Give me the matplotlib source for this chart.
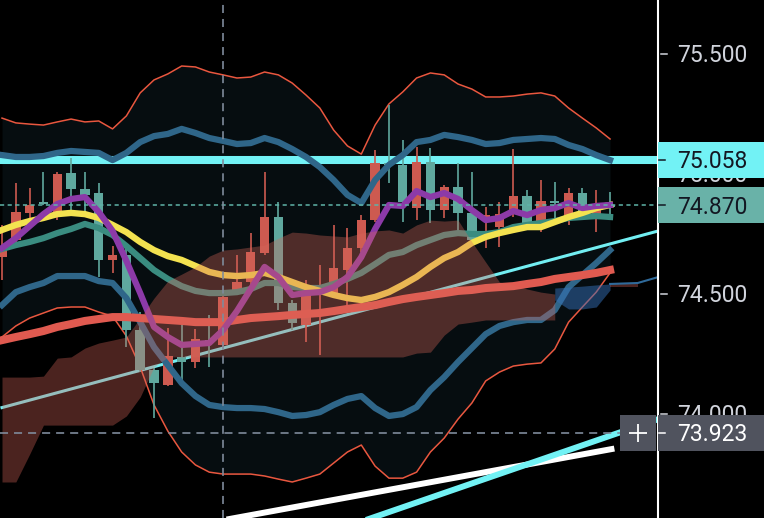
import numpy as np
import matplotlib
matplotlib.use('Agg')
import matplotlib.pyplot as plt
import matplotlib.transforms as mtransforms
from matplotlib.patches import Rectangle

plt.rcParams['font.family'] = ['Roboto', 'DejaVu Sans']
plt.rcParams['lines.scale_dashes'] = False

# --- candles (one per bar) ---
opens = [74.692, 74.842, 74.871, 74.875, 75.000, 74.938, 74.912, 74.642, 74.663, 74.350,
         74.183, 74.129, 74.242, 74.217, 74.313, 74.296, 74.487, 74.550, 74.675, 74.821,
         74.462, 74.379, 74.504, 74.517, 74.608, 74.692, 74.808, 75.046, 75.038, 74.883,
         75.050, 74.850, 74.946, 74.838, 74.725, 74.829, 74.833, 74.908, 74.796, 74.887,
         74.879, 74.921, 74.829, 74.871, 74.862]
highs = [74.787, 74.962, 74.942, 75.008, 75.008, 75.067, 75.008, 74.962, 74.700, 74.692,
         74.425, 74.192, 74.358, 74.371, 74.354, 74.412, 74.496, 74.662, 74.754, 75.008,
         74.883, 74.475, 74.558, 74.621, 74.787, 74.775, 74.829, 75.100, 75.288, 75.142,
         75.113, 75.108, 74.954, 75.046, 75.008, 74.862, 74.883, 75.104, 74.933, 74.975,
         74.967, 74.942, 74.942, 74.933, 74.925]
lows = [74.558, 74.717, 74.787, 74.871, 74.808, 74.842, 74.821, 74.571, 74.588, 74.279,
        74.175, 73.983, 74.117, 74.129, 74.192, 74.196, 74.279, 74.504, 74.538, 74.662,
        74.433, 74.350, 74.300, 74.246, 74.487, 74.446, 74.675, 74.800, 74.962, 74.800,
        74.808, 74.796, 74.817, 74.767, 74.725, 74.692, 74.696, 74.821, 74.779, 74.758,
        74.808, 74.787, 74.817, 74.758, 74.829]
closes = [74.654, 74.725, 74.838, 74.883, 74.829, 75.004, 74.938, 74.921, 74.642, 74.663,
          74.350, 74.183, 74.121, 74.237, 74.217, 74.308, 74.287, 74.517, 74.550, 74.671,
          74.821, 74.462, 74.371, 74.508, 74.504, 74.600, 74.692, 74.808, 75.046, 75.038,
          74.858, 75.050, 74.850, 74.946, 74.838, 74.812, 74.779, 74.842, 74.908, 74.796,
          74.887, 74.821, 74.921, 74.829, 74.870]

# --- bands ---
bb_outer_up = [75.233, 75.213, 75.208, 75.204, 75.217, 75.229, 75.217, 75.221, 75.188, 75.242,
               75.338, 75.392, 75.417, 75.450, 75.446, 75.425, 75.413, 75.400, 75.404, 75.425,
               75.413, 75.379, 75.329, 75.275, 75.183, 75.117, 75.083, 75.204, 75.292, 75.342,
               75.400, 75.421, 75.413, 75.375, 75.354, 75.321, 75.321, 75.325, 75.333, 75.338,
               75.325, 75.275, 75.233, 75.192, 75.146]
bb_outer_dn = [74.321, 74.367, 74.400, 74.421, 74.442, 74.446, 74.446, 74.425, 74.408, 74.325,
               74.196, 74.038, 73.929, 73.842, 73.788, 73.758, 73.750, 73.750, 73.750, 73.742,
               73.729, 73.717, 73.733, 73.750, 73.796, 73.842, 73.871, 73.783, 73.733, 73.733,
               73.758, 73.842, 73.900, 73.979, 74.046, 74.138, 74.175, 74.200, 74.208, 74.213,
               74.271, 74.383, 74.446, 74.508, 74.588]
bb_inner_up = [75.079, 75.071, 75.071, 75.075, 75.088, 75.096, 75.092, 75.088, 75.058, 75.088,
               75.133, 75.158, 75.167, 75.188, 75.171, 75.150, 75.138, 75.125, 75.129, 75.150,
               75.133, 75.104, 75.071, 75.029, 74.975, 74.913, 74.879, 74.975, 75.038, 75.079,
               75.133, 75.142, 75.163, 75.154, 75.142, 75.125, 75.129, 75.142, 75.146, 75.150,
               75.146, 75.121, 75.104, 75.079, 75.058]
bb_inner_dn = [74.454, 74.508, 74.529, 74.546, 74.575, 74.575, 74.575, 74.554, 74.546, 74.483,
               74.383, 74.279, 74.204, 74.129, 74.075, 74.038, 74.029, 74.025, 74.025, 74.021,
               74.008, 73.992, 73.996, 74.008, 74.038, 74.063, 74.075, 74.025, 73.992, 74.000,
               74.029, 74.100, 74.154, 74.217, 74.275, 74.333, 74.367, 74.383, 74.392, 74.392,
               74.433, 74.529, 74.579, 74.629, 74.683]

# --- moving averages ---
ma_fast = [74.692, 74.733, 74.783, 74.833, 74.875, 74.896, 74.904, 74.842, 74.763, 74.638,
           74.504, 74.363, 74.321, 74.288, 74.292, 74.296, 74.350, 74.429, 74.521, 74.613,
           74.571, 74.496, 74.504, 74.508, 74.529, 74.571, 74.654, 74.771, 74.871, 74.867,
           74.929, 74.904, 74.921, 74.896, 74.850, 74.808, 74.817, 74.846, 74.829, 74.850,
           74.858, 74.879, 74.858, 74.867, 74.871]
ma_mid = [74.767, 74.788, 74.804, 74.817, 74.833, 74.838, 74.833, 74.817, 74.788, 74.758,
          74.717, 74.683, 74.658, 74.642, 74.617, 74.592, 74.579, 74.575, 74.579, 74.588,
          74.571, 74.550, 74.529, 74.513, 74.496, 74.483, 74.475, 74.488, 74.508, 74.538,
          74.571, 74.613, 74.650, 74.675, 74.713, 74.738, 74.754, 74.767, 74.779, 74.779,
          74.800, 74.821, 74.838, 74.858, 74.871]
ma_basis = [74.688, 74.704, 74.717, 74.733, 74.754, 74.771, 74.792, 74.775, 74.746, 74.700,
            74.650, 74.600, 74.563, 74.533, 74.513, 74.504, 74.504, 74.508, 74.521, 74.546,
            74.546, 74.529, 74.525, 74.525, 74.542, 74.563, 74.588, 74.625, 74.663, 74.675,
            74.704, 74.725, 74.746, 74.754, 74.750, 74.750, 74.758, 74.779, 74.788, 74.796,
            74.804, 74.817, 74.821, 74.825, 74.821]
ma_slow = [74.308, 74.321, 74.333, 74.346, 74.363, 74.375, 74.388, 74.396, 74.404, 74.404,
           74.400, 74.396, 74.392, 74.388, 74.383, 74.383, 74.383, 74.392, 74.400, 74.404,
           74.408, 74.413, 74.417, 74.421, 74.429, 74.438, 74.446, 74.454, 74.467, 74.479,
           74.488, 74.496, 74.504, 74.513, 74.517, 74.525, 74.529, 74.533, 74.542, 74.550,
           74.563, 74.571, 74.579, 74.588, 74.600]

# --- cloud ---
cloud_red_top = [74.154, 74.154, 74.154, 74.158, 74.233, 74.238, 74.275, 74.296, 74.308, 74.321,
                 74.400, 74.483, 74.554, 74.583, 74.613, 74.658, 74.683, 74.688, 74.696, 74.704,
                 74.733, 74.758, 74.754, 74.746, 74.742, 74.738, 74.754, 74.763, 74.767, 74.754,
                 74.788, 74.808, 74.804, 74.808, 74.717, 74.633, 74.550, 74.538, 74.521, 74.508,
                 74.500]
cloud_red_bot = [73.717, 73.717, 73.833, 73.954, 73.954, 73.954, 73.954, 73.954, 73.954, 73.992,
                 74.071, 74.196, 74.238, 74.238, 74.238, 74.238, 74.238, 74.238, 74.238, 74.238,
                 74.238, 74.238, 74.238, 74.238, 74.238, 74.238, 74.238, 74.238, 74.238, 74.238,
                 74.254, 74.258, 74.329, 74.375, 74.383, 74.392, 74.392, 74.392, 74.392, 74.392,
                 74.392]
cloud_blue_x = [40, 41, 42, 43, 44]
cloud_blue_top = [74.525, 74.529, 74.533, 74.538, 74.542]
cloud_blue_bot = [74.475, 74.438, 74.438, 74.446, 74.517]
cloud_tail_x = [44, 46]
cloud_tail_top = [74.546, 74.546]
cloud_tail_bot = [74.529, 74.529]
span_tail_x = [44, 46, 47.5]
span_tail = [74.542, 74.546, 74.571]

# --- drawn lines / levels ---
trend_thin_x, trend_thin_y = [0, 47.5], [74.027, 74.763]
trend_white_x, trend_white_y = [16, 44.1], [73.558, 73.854]
trend_cyan_x, trend_cyan_y = [26.3, 47.5], [73.558, 73.979]
level_price = 75.058
last_price = 74.870
cross_bar = 16
cross_price = 73.923
tick_prices = [75.5, 75.0, 74.5, 74.0]

RED = '#cd5a50'
TEAL = '#5fa89e'
CYAN = '#72f2f5'
CLOUD_RED = '#d8665a'


def main():
    idx = np.arange(len(opens))
    o, h, l, c = map(np.array, (opens, highs, lows, closes))

    fig = plt.figure(figsize=(7.64, 5.18), dpi=100, facecolor='black')
    ax = fig.add_axes([0, 0, 658 / 764, 1])
    ax.set_xlim(-0.145, 47.47)
    ax.set_ylim(73.567, 75.725)
    ax.axis('off')

    # fundo das bandas externas
    ax.fill_between(idx, bb_outer_up, bb_outer_dn, color='#060d10', lw=0, zorder=1)
    ax.axhline(level_price, color=CYAN, lw=5.8, zorder=2)

    ax.plot(trend_thin_x, trend_thin_y, color='#72eef2', lw=2.2, zorder=3)
    ax.plot(trend_white_x, trend_white_y, color='white', lw=4.3, zorder=3)
    ax.plot(trend_cyan_x, trend_cyan_y, color=CYAN, lw=4.3, zorder=3)
    ax.plot(idx, bb_outer_up, color='#e9573f', lw=1.1, zorder=3)
    ax.plot(idx, bb_outer_dn, color='#e9573f', lw=1.1, zorder=3)

    # candles
    colors = np.where(c >= o, TEAL, RED)
    ax.vlines(idx, l, h, colors=colors, lw=1.2, zorder=4)
    body_lo = np.minimum(o, c)
    body_h = np.maximum(np.abs(c - o), 0.006)
    ax.bar(idx, body_h, bottom=body_lo, width=0.68, color=colors, lw=0, zorder=4)

    ax.plot(idx, bb_inner_up, color='#2f6689', lw=4.5, zorder=5)
    ax.plot(idx, bb_inner_dn, color='#2f6689', lw=4.5, zorder=5)
    ax.plot(idx, ma_slow, color='#e05a50', lw=5.8, zorder=5)
    ax.plot(idx, ma_basis, color='#3a8c80', lw=4.5, zorder=5)
    ax.plot(idx, ma_mid, color='#f3e250', lw=4.6, zorder=6)
    ax.plot(idx, ma_fast, color='#8c3aa8', lw=4.5, zorder=6)

    # nuvem por cima, translúcida
    ax.fill_between(idx[:len(cloud_red_top)], cloud_red_top, cloud_red_bot,
                    color=CLOUD_RED, alpha=0.35, lw=0, zorder=7)
    ax.fill_between(cloud_blue_x, cloud_blue_top, cloud_blue_bot,
                    color='#3570b8', alpha=0.5, lw=0, zorder=7)
    ax.fill_between(cloud_tail_x, cloud_tail_top, cloud_tail_bot,
                    color=CLOUD_RED, alpha=0.35, lw=0, zorder=7)
    ax.plot(span_tail_x, span_tail, color='#2f6a9a', lw=1.5, zorder=7)

    ax.axhline(last_price, color='#5fb3a8', lw=1.1, ls=(0, (3, 2.5)), zorder=8)
    ax.axvline(cross_bar, color='#7f8b9b', lw=1.2, ls=(0, (5.8, 4.3)), zorder=9)
    ax.axhline(cross_price, xmax=620 / 658, color='#7f8b9b', lw=1.2,
               ls=(0, (5.8, 4.3)), zorder=9)

    # escala de preço à direita
    trans = mtransforms.blended_transform_factory(ax.transAxes, ax.transData)
    ax.plot([1.0, 1.0], [73.5, 75.8], transform=trans, color='white', lw=1.5,
            clip_on=False, zorder=10)
    half = 0.0348
    for p in tick_prices:
        ax.plot([661 / 658, 667 / 658], [p, p], transform=trans, color='#d1d4dc',
                lw=1.1, clip_on=False, zorder=10)
        ax.text(677 / 658, p - half, f'{p:.3f}', transform=trans, color='#d1d4dc',
                fontsize=16.5, ha='left', va='baseline', clip_on=False, zorder=10)

    labels = [(level_price, CYAN, '#131722'),
              (last_price, '#69b2a8', '#131722'),
              (cross_price, '#50535e', 'white')]
    for p, bg, fg in labels:
        ax.add_patch(Rectangle((1.0, p - 0.075), 106 / 658, 0.15, transform=trans,
                               facecolor=bg, lw=0, clip_on=False, zorder=12))
        ax.plot([659 / 658, 665 / 658], [p, p], transform=trans, color=fg,
                lw=1.1, clip_on=False, zorder=13)
        ax.text(677 / 658, p - half, f'{p:.3f}', transform=trans, color=fg,
                fontsize=16.5, ha='left', va='baseline', clip_on=False, zorder=13)

    # botão "+" do crosshair
    ax.add_patch(Rectangle((620 / 658, cross_price - 0.075), 36 / 658, 0.15,
                           transform=trans, facecolor='#50535e', lw=0,
                           clip_on=False, zorder=12))
    ax.plot([638 / 658], [cross_price], transform=trans, marker='+', ms=13.5,
            mew=1.3, color='white', clip_on=False, zorder=13)

    fig.savefig('out.png', dpi=100, facecolor='black')
    plt.close(fig)


if __name__ == '__main__':
    main()
